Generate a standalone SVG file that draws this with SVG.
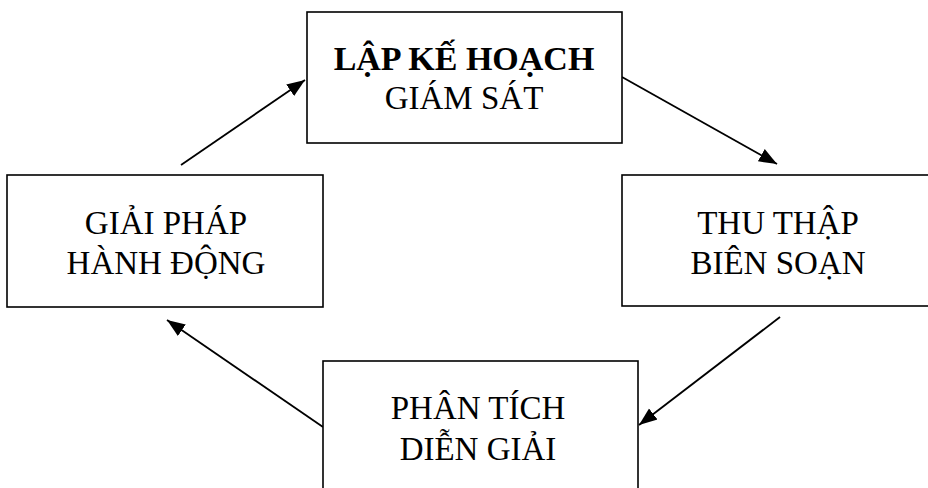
<svg xmlns="http://www.w3.org/2000/svg" width="928" height="488" viewBox="0 0 928 488">
<style>
.box{fill:#fff;stroke:#000;stroke-width:1.6}
text{font-family:Liberation Serif,DejaVu Serif,serif;font-size:33px;fill:#000;text-anchor:middle}
.b{font-weight:bold;font-size:34px}
.c{stroke:#000;stroke-width:1.8;fill:none;marker-end:url(#ah)}
</style>
<defs>
<marker id="ah" markerUnits="userSpaceOnUse" markerWidth="20" markerHeight="16" viewBox="0 0 20 16" refX="18" refY="8" orient="auto">
<path d="M0,1 L18,8 L0,15 Z" fill="#000"/>
</marker>
</defs>
<rect width="928" height="488" fill="#fff"/>
<g id="connectors">
<line class="c" x1="181" y1="165" x2="305" y2="80"/>
<line class="c" x1="622" y1="77" x2="777" y2="164"/>
<line class="c" x1="780" y1="317" x2="639" y2="425"/>
<line class="c" x1="323" y1="427" x2="167" y2="320"/>
</g>
<g id="node-plan">
<rect class="box" x="307" y="12" width="315" height="131"/>
<text class="b" x="464" y="70">LẬP KẾ HOẠCH</text>
<text x="464" y="109">GIÁM SÁT</text>
</g>
<g id="node-action">
<rect class="box" x="7" y="175" width="316" height="132"/>
<text x="166" y="234">GIẢI PHÁP</text>
<text x="166" y="274">HÀNH ĐỘNG</text>
</g>
<g id="node-collect">
<rect class="box" x="622" y="175" width="318" height="131"/>
<text x="778" y="234">THU THẬP</text>
<text x="778" y="274">BIÊN SOẠN</text>
</g>
<g id="node-analyze">
<rect class="box" x="323" y="361" width="315" height="140"/>
<text x="478" y="419">PHÂN TÍCH</text>
<text x="478" y="460">DIỄN GIẢI</text>
</g>
</svg>
